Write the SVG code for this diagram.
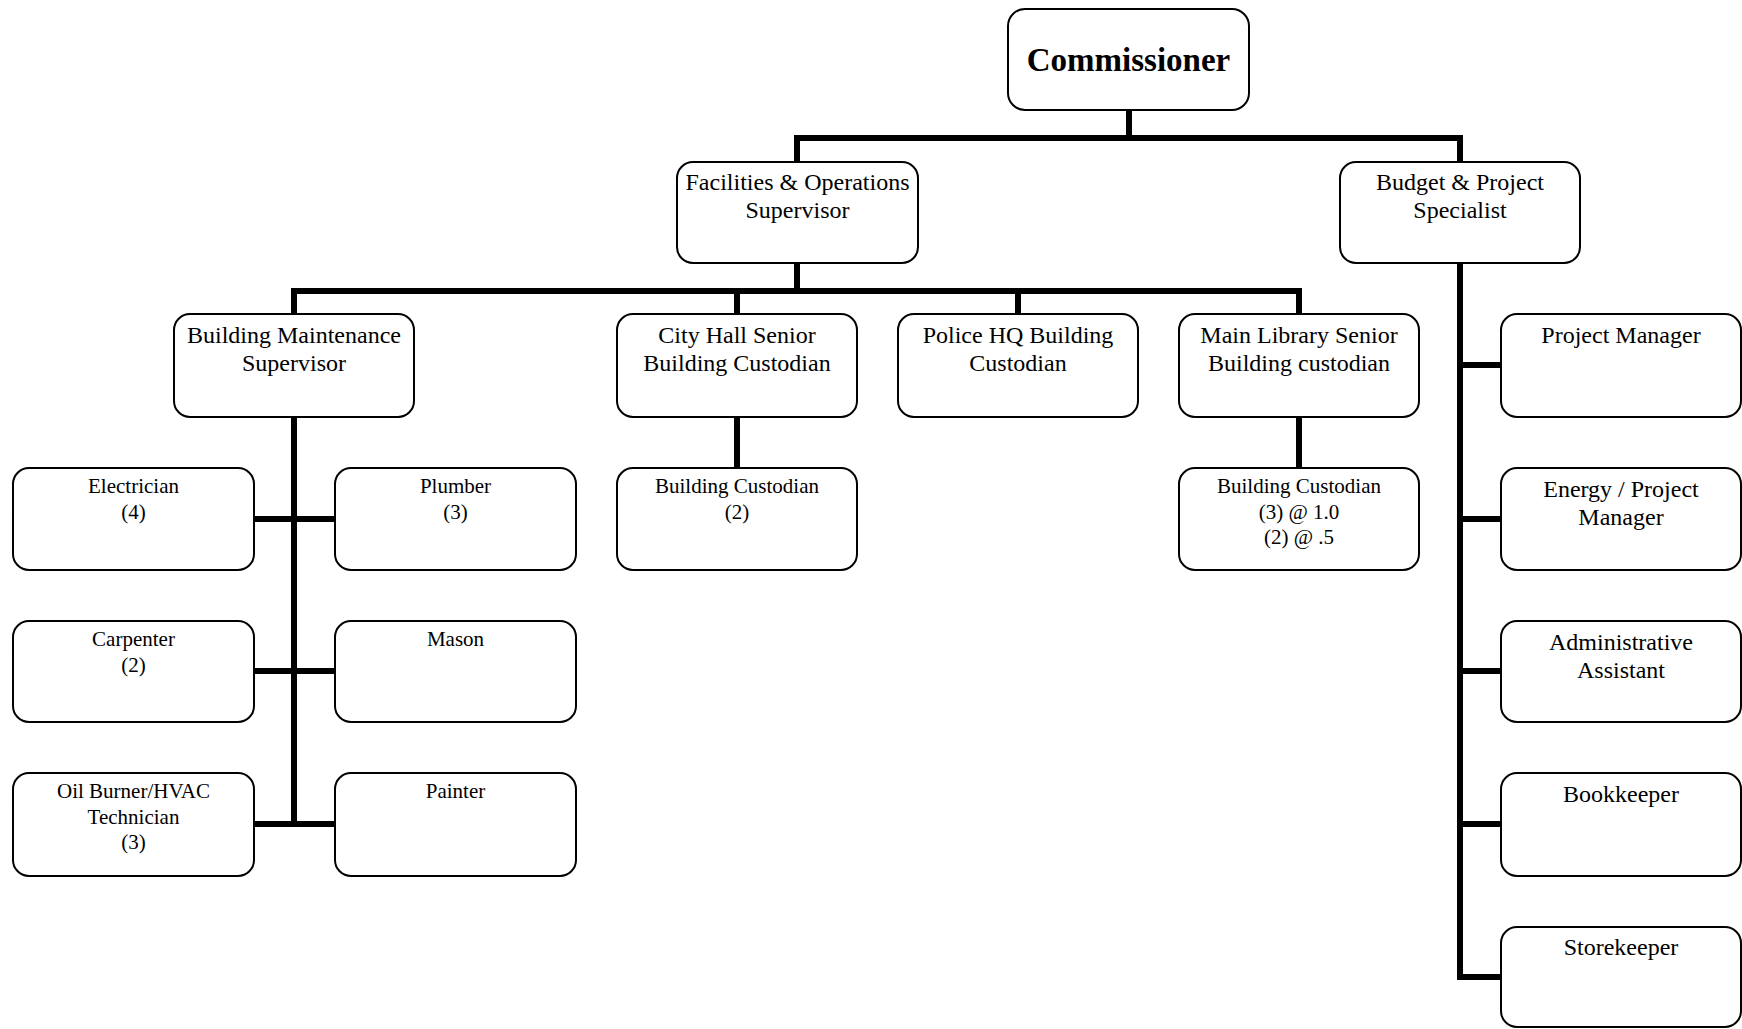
<svg xmlns="http://www.w3.org/2000/svg" width="1742" height="1029" viewBox="0 0 1742 1029">
<style>
.box{fill:#fff;stroke:#000;stroke-width:2}
.t{font-family:"Liberation Serif","Times New Roman",serif;font-size:24px;fill:#000;text-anchor:middle}
.s{font-family:"Liberation Serif","Times New Roman",serif;font-size:21px;fill:#000;text-anchor:middle}
.b{font-family:"Liberation Serif","Times New Roman",serif;font-size:33px;font-weight:bold;fill:#000;text-anchor:middle}
.c{fill:none;stroke:#000;stroke-width:6}
</style>
<rect width="1742" height="1029" fill="#fff"/>
<g id="connectors">
<path class="c" d="M1129 110V138M797 138H1460M797 135V162M1460 135V162"/>
<path class="c" d="M797 263V291M294 291H1299M294 288V314M737 288V314M1018 288V314M1299 288V314"/>
<path class="c" d="M294 417V827M254 519H335M254 671H335M254 824H335"/>
<path class="c" d="M737 417V468M1299 417V468"/>
<path class="c" d="M1460 263V980M1457 365H1501M1457 519H1501M1457 671H1501M1457 824H1501M1457 977H1501"/>
</g>
<g id="commissioner"><rect class="box" x="1008" y="9" width="241" height="101" rx="17"/><text class="b" x="1128.5" y="71">Commissioner</text></g>
<g id="facilities"><rect class="box" x="677" y="162" width="241" height="101" rx="16"/><text class="t" x="797.5" y="190">Facilities &amp; Operations</text><text class="t" x="797.5" y="218">Supervisor</text></g>
<g id="budget"><rect class="box" x="1340" y="162" width="240" height="101" rx="16"/><text class="t" x="1460" y="190">Budget &amp; Project</text><text class="t" x="1460" y="218">Specialist</text></g>
<g id="bldg-maint"><rect class="box" x="174" y="314" width="240" height="103" rx="16"/><text class="t" x="294" y="343">Building Maintenance</text><text class="t" x="294" y="371">Supervisor</text></g>
<g id="cityhall"><rect class="box" x="617" y="314" width="240" height="103" rx="16"/><text class="t" x="737" y="343">City Hall Senior</text><text class="t" x="737" y="371">Building Custodian</text></g>
<g id="police"><rect class="box" x="898" y="314" width="240" height="103" rx="16"/><text class="t" x="1018" y="343">Police HQ Building</text><text class="t" x="1018" y="371">Custodian</text></g>
<g id="library"><rect class="box" x="1179" y="314" width="240" height="103" rx="16"/><text class="t" x="1299" y="343">Main Library Senior</text><text class="t" x="1299" y="371">Building custodian</text></g>
<g id="project-manager"><rect class="box" x="1501" y="314" width="240" height="103" rx="16"/><text class="t" x="1621" y="343">Project Manager</text></g>
<g id="electrician"><rect class="box" x="13" y="468" width="241" height="102" rx="16"/><text class="s" x="133.5" y="493">Electrician</text><text class="s" x="133.5" y="518.5">(4)</text></g>
<g id="plumber"><rect class="box" x="335" y="468" width="241" height="102" rx="16"/><text class="s" x="455.5" y="493">Plumber</text><text class="s" x="455.5" y="518.5">(3)</text></g>
<g id="custodian-ch"><rect class="box" x="617" y="468" width="240" height="102" rx="16"/><text class="s" x="737" y="493">Building Custodian</text><text class="s" x="737" y="518.5">(2)</text></g>
<g id="custodian-lib"><rect class="box" x="1179" y="468" width="240" height="102" rx="16"/><text class="s" x="1299" y="493">Building Custodian</text><text class="s" x="1299" y="518.5">(3) @ 1.0</text><text class="s" x="1299" y="544">(2) @ .5</text></g>
<g id="energy"><rect class="box" x="1501" y="468" width="240" height="102" rx="16"/><text class="t" x="1621" y="497">Energy / Project</text><text class="t" x="1621" y="525">Manager</text></g>
<g id="carpenter"><rect class="box" x="13" y="621" width="241" height="101" rx="16"/><text class="s" x="133.5" y="646">Carpenter</text><text class="s" x="133.5" y="671.5">(2)</text></g>
<g id="mason"><rect class="box" x="335" y="621" width="241" height="101" rx="16"/><text class="s" x="455.5" y="646">Mason</text></g>
<g id="admin"><rect class="box" x="1501" y="621" width="240" height="101" rx="16"/><text class="t" x="1621" y="650">Administrative</text><text class="t" x="1621" y="678">Assistant</text></g>
<g id="hvac"><rect class="box" x="13" y="773" width="241" height="103" rx="16"/><text class="s" x="133.5" y="798">Oil Burner/HVAC</text><text class="s" x="133.5" y="823.5">Technician</text><text class="s" x="133.5" y="849">(3)</text></g>
<g id="painter"><rect class="box" x="335" y="773" width="241" height="103" rx="16"/><text class="s" x="455.5" y="798">Painter</text></g>
<g id="bookkeeper"><rect class="box" x="1501" y="773" width="240" height="103" rx="16"/><text class="t" x="1621" y="802">Bookkeeper</text></g>
<g id="storekeeper"><rect class="box" x="1501" y="927" width="240" height="100" rx="16"/><text class="t" x="1621" y="955">Storekeeper</text></g>
</svg>
